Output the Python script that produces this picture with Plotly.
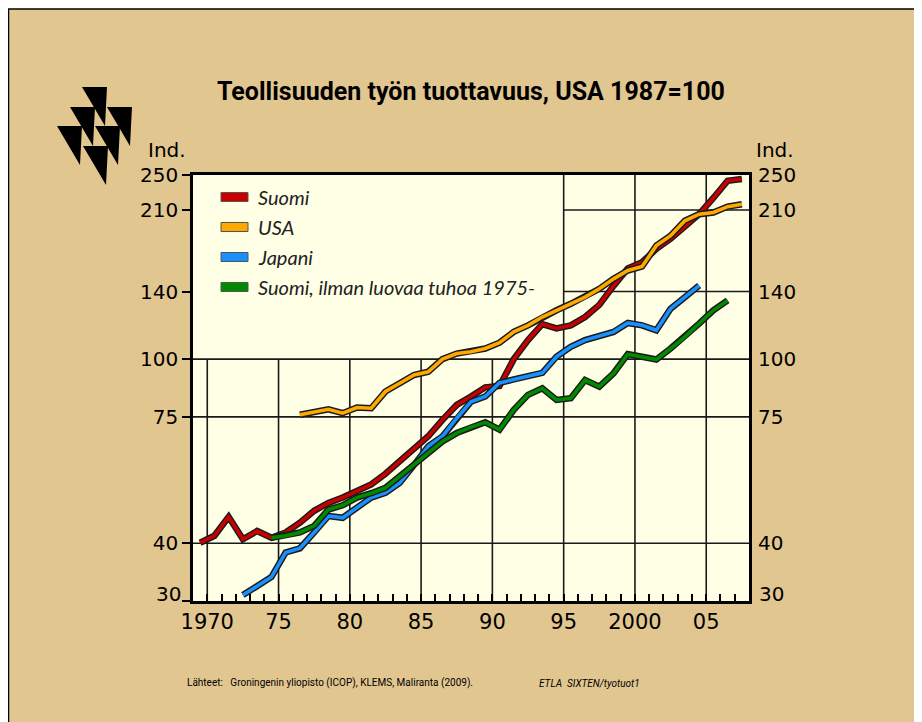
import numpy as np
import plotly.graph_objects as go

# --- data (index, USA 1987 = 100) ---
suomi_vuodet = list(range(1970, 2009))
suomi = [40.1, 41.5, 45.6, 40.8, 42.5, 41.1, 42.2, 44.3, 47.0, 48.9,
         50.2, 51.8, 53.6, 56.5, 60.1, 63.7, 68.1, 73.9, 79.6, 83.0,
         86.9, 87.5, 100.0, 110.0, 119.0, 116.5, 118.3, 123.3, 131.0, 144.0,
         157.0, 162.0, 173.0, 182.0, 193.0, 205.7, 223.0, 243.0, 245.0]

usa_vuodet = list(range(1977, 2009))
usa = [75.8, 77.0, 77.9, 76.4, 78.6, 78.3, 85.1, 88.7, 92.4, 93.9,
       100.0, 102.8, 103.7, 105.4, 108.5, 114.5, 118.3, 123.3, 127.5, 131.7,
       136.1, 141.9, 149.1, 155.4, 158.5, 175.9, 184.8, 199.1, 205.7, 207.4,
       213.6, 216.1]

japani_vuodet = list(range(1973, 2006))
japani = [30.9, 32.4, 33.8, 38.2, 39.0, 42.2, 45.8, 45.4, 47.7, 50.2,
          51.4, 54.0, 59.0, 64.8, 68.1, 74.5, 80.9, 83.0, 88.8, 90.4,
          91.9, 93.4, 101.2, 106.3, 109.9, 112.1, 114.5, 119.7, 118.3, 115.4,
          128.5, 136.1, 144.2]

ilman_vuodet = list(range(1975, 2008))
ilman = [41.1, 41.5, 42.2, 43.6, 47.3, 48.3, 50.2, 51.3, 52.7, 55.8,
         59.3, 62.7, 66.4, 69.2, 71.3, 73.0, 70.4, 77.7, 83.7, 86.5,
         81.6, 82.3, 90.1, 87.2, 93.2, 102.5, 101.2, 99.8, 105.4, 111.7,
         119.3, 127.5, 133.9]

x_tickvals = [1970, 1975, 1980, 1985, 1990, 1995, 2000, 2005]
x_ticktext = ['1970', '75', '80', '85', '90', '95', '2000', '05']
y_tickvals = [30, 40, 75, 100, 140, 210, 250]
y_ticktext = ['', '40', '75', '100', '140', '210', '250']  # 30 nostetaan erikseen

sarjat = [
    ('Suomi', suomi_vuodet, suomi, '#C80000'),
    ('USA', usa_vuodet, usa, '#FFA800'),
    ('Japani', japani_vuodet, japani, '#1A90FF'),
    ('Suomi, ilman luovaa tuhoa 1975-', ilman_vuodet, ilman, '#008A00'),
]

# --- sivun mitat (sivulla on 8 px body-marginaali) ---
W, H = 922, 722
OFS = 8
ML, MR, MT, MB = 185, 181, 167, 129
PW, PH = W - ML - MR, H - MT - MB

TAUSTA = '#E2C690'
KUVA_TAUSTA = '#FFFFE6'


def px(x):
    return (x - OFS - ML) / PW


def py(y):
    return (H - MB - (y - OFS)) / PH


fig = go.Figure()

# viivat: musta reunus + värillinen viiva, pisteet vuoden keskelle
for nimi, vuodet, arvot, vari in sarjat:
    xs = [v - 0.5 for v in vuodet]
    fig.add_trace(go.Scatter(x=xs, y=arvot, mode='lines', showlegend=False, hoverinfo='skip',
                             line=dict(color='#1a1a1a', width=6.5)))
    fig.add_trace(go.Scatter(x=xs, y=arvot, mode='lines', name=nimi, showlegend=False,
                             line=dict(color=vari, width=3.6)))

# oikea akseli tarvitsee jäljen
fig.add_trace(go.Scatter(x=[1969], y=[100], yaxis='y2', mode='markers', showlegend=False,
                         hoverinfo='skip', marker=dict(opacity=0)))

shapes = []

# ruudukko (osittain, selitteen alue jätetään tyhjäksi)
for xv in x_tickvals:
    ylä = 100 if xv <= 1990 else 250
    shapes.append(dict(type='line', xref='x', yref='y', x0=xv, x1=xv, y0=30, y1=ylä,
                       line=dict(color='#1a1a1a', width=1.6), layer='below'))
for yv in [40, 75, 100]:
    shapes.append(dict(type='line', xref='x', yref='y', x0=1969, x1=2008, y0=yv, y1=yv,
                       line=dict(color='#1a1a1a', width=1.6), layer='below'))
for yv in [140, 210]:
    shapes.append(dict(type='line', xref='x', yref='y', x0=1995, x1=2008, y0=yv, y1=yv,
                       line=dict(color='#1a1a1a', width=1.6), layer='below'))

# valkoiset reunat ja musta kehys
shapes.append(dict(type='rect', xref='paper', yref='paper', x0=px(0), x1=px(W + OFS), y0=py(0), y1=py(9),
                   fillcolor='white', line=dict(width=0)))
shapes.append(dict(type='rect', xref='paper', yref='paper', x0=px(918), x1=px(W + OFS), y0=py(0), y1=py(H + OFS),
                   fillcolor='white', line=dict(width=0)))
shapes.append(dict(type='line', xref='paper', yref='paper', x0=px(OFS), x1=px(918), y0=py(9), y1=py(9),
                   line=dict(color='black', width=1.5)))
shapes.append(dict(type='line', xref='paper', yref='paper', x0=px(OFS + 0.5), x1=px(OFS + 0.5), y0=py(9), y1=py(H + OFS),
                   line=dict(color='black', width=1.5)))

# logo: kolmiot
kolmiot = [(82, 87), (70, 107), (107, 107), (57, 126), (95, 126), (83, 146)]
for kx, ky in kolmiot:
    p = (f'M {px(kx):.5f},{py(ky):.5f} L {px(kx + 25):.5f},{py(ky):.5f} '
         f'L {px(kx + 23):.5f},{py(ky + 39):.5f} Z')
    shapes.append(dict(type='path', xref='paper', yref='paper', path=p,
                       fillcolor='black', line=dict(width=0)))

# selite
annotations = []
for i, (nimi, _, _, vari) in enumerate(sarjat):
    yy = 197 + 30 * i
    shapes.append(dict(type='rect', xref='paper', yref='paper', x0=px(221), x1=px(248),
                       y0=py(yy - 4.5), y1=py(yy + 4.5), fillcolor=vari,
                       line=dict(color='#555555', width=1)))
    annotations.append(dict(xref='paper', yref='paper', x=px(256), y=py(yy), text=nimi,
                            showarrow=False, xanchor='left', yanchor='middle',
                            font=dict(family='Lato', size=20, color='#222222', style='italic')))

tick_font = dict(family='DejaVu Sans', size=20, color='black')
annotations += [
    dict(xref='paper', yref='paper', x=px(471), y=py(91), text='<b>Teollisuuden työn tuottavuus, USA 1987=100</b>',
         showarrow=False, xanchor='center', yanchor='middle',
         font=dict(family='Roboto', size=25, color='black')),
    dict(xref='paper', yref='paper', x=px(167), y=py(150), text='Ind.', showarrow=False,
         xanchor='center', yanchor='middle', font=tick_font),
    dict(xref='paper', yref='paper', x=px(775), y=py(150), text='Ind.', showarrow=False,
         xanchor='center', yanchor='middle', font=tick_font),
    dict(xref='paper', yref='paper', x=px(183), y=py(594), text='30', showarrow=False,
         xanchor='right', yanchor='middle', font=tick_font),
    dict(xref='paper', yref='paper', x=px(757), y=py(594), text='30', showarrow=False,
         xanchor='left', yanchor='middle', font=tick_font),
    dict(xref='paper', yref='paper', x=px(185), y=py(683),
         text='Lähteet:\u00a0\u00a0\u00a0Groningenin yliopisto (ICOP), KLEMS, Maliranta (2009).',
         showarrow=False, xanchor='left', yanchor='middle',
         font=dict(family='Roboto', size=10, color='black')),
    dict(xref='paper', yref='paper', x=px(537), y=py(683), text='ETLA\u00a0\u00a0SIXTEN/tyotuot1',
         showarrow=False, xanchor='left', yanchor='middle',
         font=dict(family='Roboto', size=10, color='black', style='italic')),
]

y_alue = [np.log10(30), np.log10(250)]

fig.update_layout(
    width=W, height=H,
    margin=dict(l=ML, r=MR, t=MT, b=MB, pad=0),
    paper_bgcolor=TAUSTA, plot_bgcolor=KUVA_TAUSTA,
    showlegend=False,
    shapes=shapes, annotations=annotations,
    xaxis=dict(range=[1969, 2008], tickmode='array', tickvals=x_tickvals, ticktext=x_ticktext,
               ticks='inside', ticklen=7, tickwidth=1.5, tickcolor='black',
               showline=True, linecolor='black', linewidth=2.5, mirror=True,
               showgrid=False, zeroline=False,
               tickfont=dict(family='DejaVu Sans', size=21, color='black'),
               minor=dict(tickmode='linear', tick0=1969, dtick=1, ticks='inside', ticklen=7,
                          tickwidth=1.5, tickcolor='black', showgrid=False)),
    yaxis=dict(type='log', range=y_alue, tickmode='array', tickvals=y_tickvals, ticktext=y_ticktext,
               ticks='outside', ticklen=8, tickwidth=2, tickcolor='black',
               showline=True, linecolor='black', linewidth=2.5, mirror=True,
               showgrid=False, zeroline=False, tickfont=tick_font),
    yaxis2=dict(type='log', range=y_alue, overlaying='y', side='right', tickmode='array',
                tickvals=y_tickvals, ticktext=y_ticktext, ticks='', ticklabelstandoff=8,
                showline=False, showgrid=False, zeroline=False, tickfont=tick_font),
)

fig.write_html("out.html")
